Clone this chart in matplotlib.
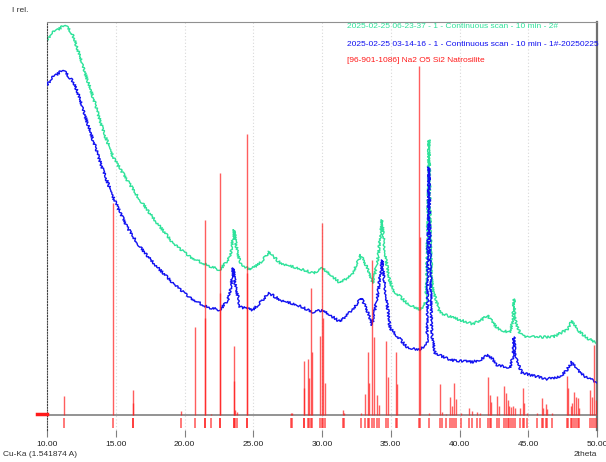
import matplotlib.pyplot as plt
import numpy as np

# scan 2# (green), 2theta and intensity (counts above baseline)
tt_green = [10.00, 10.36, 10.73, 11.31, 11.82, 12.18, 12.62, 13.35, 14.07, 14.80,
            15.82, 16.76, 18.00, 19.16, 20.40, 21.64, 22.58, 23.31, 23.45, 23.60,
            23.75, 24.04, 24.76, 25.49, 26.15, 26.95, 28.18, 29.35, 30.07, 31.31,
            32.18, 32.50, 32.84, 33.20, 33.71, 34.10, 34.36, 34.60, 34.85, 35.16,
            36.18, 37.13, 37.56, 37.68, 37.78, 37.88, 37.98, 38.07, 38.58, 40.04,
            40.98, 41.60, 42.00, 42.40, 42.73, 43.67, 43.88, 43.96, 44.05, 44.40,
            44.91, 46.80, 47.80, 48.18, 48.60, 49.27, 50.00]
i_green = [375, 382, 385, 390, 382, 368, 348, 318, 285, 258,
           235, 215, 192, 172, 158, 150, 145, 158, 170, 185,
           170, 152, 145, 152, 163, 152, 147, 142, 147, 132,
           140, 150, 160, 150, 132, 160, 195, 160, 138, 125,
           112, 105, 113, 180, 275, 180, 135, 125, 102, 95,
           91, 95, 100, 93, 87, 82, 95, 116, 95, 81,
           78, 78, 85, 94, 85, 77, 72]

# scan 1#-20250225 (blue)
tt_blue = [10.00, 10.44, 11.16, 11.82, 12.18, 12.62, 13.35, 14.07, 14.80, 15.82,
           16.76, 18.00, 19.16, 20.40, 21.64, 22.58, 23.16, 23.40, 23.53, 23.70,
           24.04, 24.98, 26.15, 26.95, 28.18, 29.35, 30.07, 31.31, 32.18, 32.50,
           32.84, 33.20, 33.64, 34.10, 34.36, 34.60, 34.95, 36.18, 37.13, 37.64,
           37.70, 37.78, 37.86, 37.98, 38.22, 39.31, 40.98, 41.60, 42.07, 42.40,
           42.73, 43.67, 43.88, 43.96, 44.05, 44.55, 46.36, 47.31, 47.80, 48.18,
           48.60, 49.27, 50.00]
i_blue = [330, 338, 345, 335, 325, 305, 275, 245, 218, 188,
          168, 148, 132, 117, 108, 105, 115, 130, 147, 130,
          108, 105, 122, 115, 110, 103, 105, 93, 105, 110,
          117, 108, 90, 125, 155, 125, 87, 68, 65, 72,
          160, 248, 160, 80, 62, 55, 53, 56, 60, 56,
          50, 47, 58, 78, 58, 42, 36, 38, 45, 53,
          45, 37, 33]

# [96-901-1086] Na2 O5 Si2 Natrosilite reference lines
tt_ref = [11.24, 14.83, 16.23, 16.27, 19.77, 20.74, 21.49, 21.52, 21.90, 22.56,
          22.59, 23.58, 23.61, 23.70, 23.80, 24.52, 24.55, 27.75, 27.85, 28.67,
          28.70, 28.95, 29.05, 29.22, 29.30, 29.83, 30.02, 30.10, 30.20, 31.50,
          31.60, 32.84, 33.15, 33.35, 33.45, 33.66, 33.78, 34.02, 34.15, 34.65,
          34.78, 35.38, 35.48, 37.03, 37.13, 37.80, 38.58, 38.70, 39.00, 39.31,
          39.48, 39.62, 39.72, 40.08, 40.69, 40.88, 41.25, 41.49, 42.10, 42.22,
          42.29, 42.75, 42.87, 43.26, 43.38, 43.50, 43.62, 43.75, 43.87, 44.04,
          44.40, 44.60, 44.71, 44.93, 45.61, 45.98, 46.10, 46.29, 46.39, 46.70,
          47.79, 47.90, 48.08, 48.20, 48.35, 48.47, 48.60, 48.70, 49.49, 49.61,
          49.80, 49.90]
i_ref = [19, 212, 25, 12, 4, 88, 195, 97, 1, 242,
         122, 69, 34, 5, 3, 281, 142, 2, 2, 54,
         27, 56, 37, 127, 63, 79, 192, 97, 32, 5,
         2, 2, 21, 63, 32, 155, 78, 20, 10, 74,
         38, 63, 31, 349, 178, 2, 31, 3, 1, 18,
         9, 32, 16, 2, 7, 4, 3, 2, 38, 20,
         13, 19, 9, 29, 22, 15, 9, 8, 9, 7,
         7, 27, 12, 2, 2, 17, 7, 11, 6, 2,
         39, 27, 9, 12, 23, 18, 17, 7, 25, 18,
         70, 15]

xticks = [10, 15, 20, 25, 30, 35, 40, 45, 50]
legend = ["2025-02-25 06-23-37 - 1 - Continuous scan - 10 min - 2#",
          "2025-02-25 03-14-16 - 1 - Continuous scan - 10 min - 1#-20250225",
          "[96-901-1086] Na2 O5 Si2 Natrosilite"]

green = "#2ee29a"
blue = "#1010f0"
red = "#ff1a1a"

plt.rcParams['font.family'] = ['Liberation Sans', 'DejaVu Sans']

fig = plt.figure(figsize=(6.06, 4.62), dpi=100)
ax = fig.add_axes([47 / 606, 32 / 462, 550 / 606, 408 / 462])

ax.set_xlim(10, 50)
ax.set_ylim(-15, 393)

for x in xticks[1:-1]:
    ax.axvline(x, color="#d8d8d8", lw=0.8, ls=(0, (1, 2)), zorder=0)

ax.axhline(0, color="#808080", lw=1.2, zorder=1)

lg, = ax.plot(tt_green, i_green, color=green, lw=1.0, zorder=2)
lb, = ax.plot(tt_blue, i_blue, color=blue, lw=1.0, zorder=3)
# rough line style to mimic counting noise of the scans
for ln in (lg, lb):
    ln.set_sketch_params(scale=1.2, length=1.0, randomness=3)

ax.vlines(tt_ref, 0, i_ref, color=red, lw=1.0, alpha=0.7, zorder=4)
ax.vlines(tt_ref, -3, -13, color=red, lw=1.1, alpha=0.75, zorder=4)
ax.plot([9.3, 10.0], [1, 1], color=red, lw=2.5, clip_on=False, zorder=4)

ax.spines["bottom"].set_visible(False)
ax.spines["top"].set_color("#909090")
ax.spines["right"].set_color("#707070")
ax.spines["right"].set_linewidth(1.6)
ax.spines["left"].set_color("#404040")
ax.spines["left"].set_linestyle((0, (1, 1.5)))

ax.set_xticks(xticks)
ax.set_xticklabels(["%.2f" % x for x in xticks])
ax.tick_params(axis="x", direction="out", length=5, color="#808080",
               labelsize=6, labelcolor="#202020", pad=3)
ax.set_yticks([])

fig.text(12 / 606, 1 - 10 / 462, "I rel.", fontsize=6, color="#303030", va="center")
fig.text(3 / 606, 1 - 455 / 462, "Cu-Ka (1.541874 A)", fontsize=6, color="#303030", va="center")
fig.text(597 / 606, 1 - 455 / 462, "2theta", fontsize=6, color="#303030", va="center", ha="right")

for txt, c, yy in zip(legend, [green, blue, red], [26, 45, 60]):
    fig.text(347 / 606, 1 - yy / 462, txt, fontsize=6, color=c, va="center")

fig.savefig("out.png", dpi=100)
